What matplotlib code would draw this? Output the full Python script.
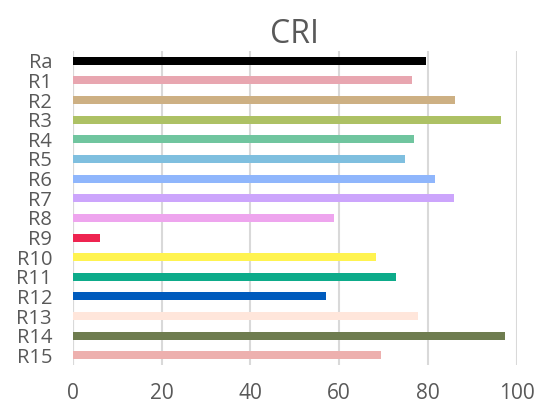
import matplotlib
matplotlib.use("Agg")
from matplotlib import pyplot as plt

labels = ["Ra", "R1", "R2", "R3", "R4", "R5", "R6", "R7",
          "R8", "R9", "R10", "R11", "R12", "R13", "R14", "R15"]
values = [79.5, 76.3, 86.0, 96.4, 76.8, 74.8, 81.5, 85.8,
          58.8, 6.1, 68.2, 72.7, 57.0, 77.7, 97.3, 69.4]
colors = ["#000000", "#E8A6B0", "#CDB083", "#ADC164", "#70C59F", "#7FBFDF",
          "#8FB6FC", "#CCA5FC", "#EEA5EE", "#EE2450", "#FFF350", "#0DAB8A",
          "#005BBD", "#FFE6DB", "#6E7C4F", "#EDB0AE"]
xticks = [0, 20, 40, 60, 80, 100]

plt.rcParams['font.family'] = ['Open Sans', 'DejaVu Sans']

fig = plt.figure(figsize=(5.44, 4.08), dpi=100)
ax = fig.add_axes([0.134, 0.105, 0.816, 0.77])

pos = list(range(len(labels)))
ax.barh(pos, values, height=0.41, color=colors, zorder=3)

ax.set_ylim(len(labels) - 0.5, -0.5)
ax.set_xlim(0, 100)
ax.set_xticks(xticks)
ax.set_yticks(pos)
ax.set_yticklabels(labels)

ax.grid(axis='x', color='#D9D9D9', linewidth=1.5, zorder=0)
ax.axvline(0, color='#D9D9D9', linewidth=1.5, zorder=1)
for s in ax.spines.values():
    s.set_visible(False)
ax.tick_params(length=0, labelcolor='#595959')
ax.tick_params(axis='x', labelsize=15, pad=13)
ax.tick_params(axis='y', labelsize=14.5, pad=15)

ax.set_title("CRI", fontsize=23, color='#595959', pad=3)

fig.savefig("out.png", dpi=100)
